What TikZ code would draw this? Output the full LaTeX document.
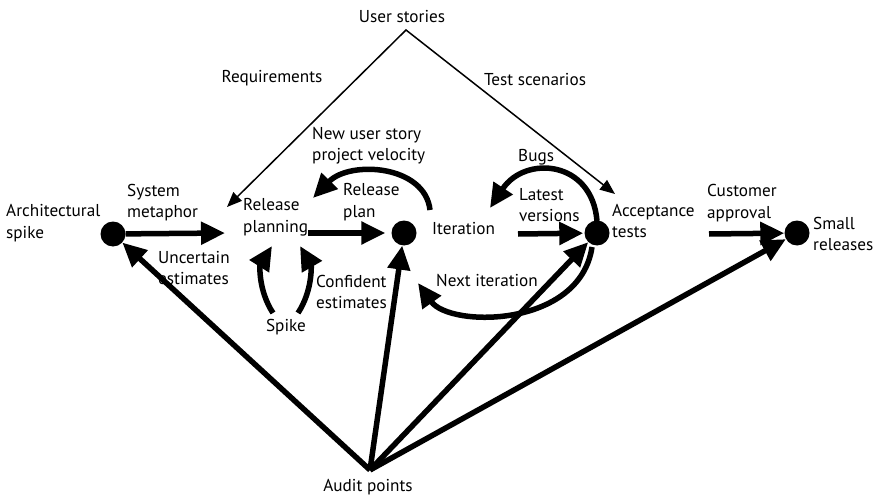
\documentclass[tikz,border=0pt]{standalone}
\usepackage{fontspec}
\setmainfont{PT Sans}
\usetikzlibrary{arrows.meta,calc}
\begin{document}
\begin{tikzpicture}[x=1pt,y=-1pt,
  lbl/.style={font=\fontsize{17.2}{21.5}\selectfont, align=left, inner sep=0pt},
  bigdot/.style={circle, fill=black, minimum size=25pt, inner sep=0pt},
  heavyarrow/.style={line width=5.5pt, -{Triangle[length=24pt,width=22pt]}},
  thinarrow/.style={line width=1.5pt, {Triangle[length=15pt,width=12pt]}-{Triangle[length=15pt,width=12pt]}},
]
\useasboundingbox (0,0) rectangle (875,497);

% dots
\node[bigdot] (asdot) at (113,234) {};
\node[bigdot] (rpdot) at (404,233) {};
\node[bigdot] (atdot) at (597,233) {};
\node[bigdot] (srdot) at (797,233) {};

% labels
\node[lbl, anchor=west] (asp) at (6,223) {Architectural\\spike};
\node[lbl, anchor=west] (sm) at (127,202.5) {System\\metaphor};
\node[lbl, anchor=west] (ue) at (158,268) {Uncertain\\estimates};
\node[lbl, anchor=west] (rp) at (243,217) {Release\\planning};
\node[lbl, anchor=west] (rpl) at (343,202) {Release\\plan};
\node[lbl, anchor=west] (nus) at (312,145.5) {New user story\\project velocity};
\node[lbl, anchor=west] (it) at (432,229) {Iteration};
\node[lbl, anchor=west] (bugs) at (518,157) {Bugs};
\node[lbl, anchor=west] (lv) at (519,205) {Latest\\versions};
\node[lbl, anchor=west] (at) at (612,221) {Acceptance\\tests};
\node[lbl, anchor=west] (ca) at (707,203) {Customer\\approval};
\node[lbl, anchor=west] (sr) at (813,234) {Small\\releases};
\node[lbl] (us) at (402,17) {User stories};
\node[lbl] (req) at (272,78) {Requirements};
\node[lbl] (ts) at (535,80) {Test scenarios};
\node[lbl, anchor=west] (ce) at (316,292) {Confident\\estimates};
\node[lbl] (sp) at (286,327) {Spike};
\node[lbl, anchor=west] (ni) at (436,280) {Next iteration};
\node[lbl] (audit) at (368,487) {Audit points};

% coordinates
\coordinate (uapex) at (406,30);
\coordinate (reqtip) at (227,207);
\coordinate (tstip) at (615,194);
\coordinate (smtip) at (225,233);
\coordinate (lvs) at (518,234);
\coordinate (cas) at (709,234);
\coordinate (ap) at (370,470);
\coordinate (nuss) at (430,210);
\coordinate (nust) at (313,198);
\coordinate (bugss) at (597,221);
\coordinate (bugst) at (490,208);
\coordinate (nis) at (592,247);
\coordinate (nit) at (418,283);
\coordinate (spl) at (273,313);
\coordinate (splt) at (272,246);
\coordinate (spr) at (298,313);
\coordinate (sprt) at (300,246);

% thin lines from user stories
\draw[thinarrow] (reqtip) -- (uapex) -- (tstip);

% main flow
\draw[heavyarrow] (asdot) -- (smtip);
\draw[heavyarrow, shorten >=6pt] (rp.east |- rpdot) -- (rpdot);
\draw[heavyarrow, shorten >=1pt] (lvs) -- (atdot);
\draw[heavyarrow] (cas) -- (srdot);

% feedback curves
\draw[heavyarrow] (nuss) .. controls (425,165) and (350,160) .. (nust);
\draw[heavyarrow] (bugss) .. controls (592,160) and (525,155) .. (bugst);
\draw[heavyarrow] (nis) .. controls (580,328) and (450,328) .. (nit);
\draw[heavyarrow] (spl) .. controls (258,290) and (260,265) .. (splt);
\draw[heavyarrow] (spr) .. controls (313,290) and (311,265) .. (sprt);

% audit points
\draw[heavyarrow] (ap) -- (asdot);
\draw[heavyarrow] (ap) -- (rpdot);
\draw[heavyarrow] (ap) -- (atdot);
\draw[heavyarrow] (ap) -- (srdot);
\end{tikzpicture}
\end{document}
